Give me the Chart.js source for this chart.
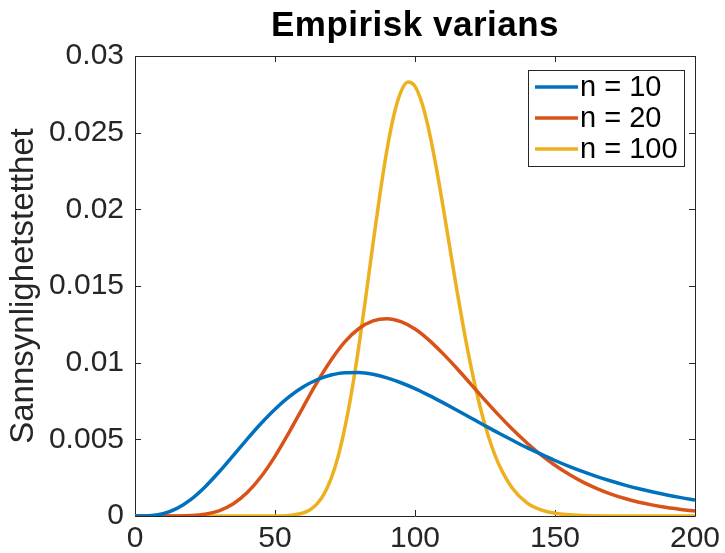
<!DOCTYPE html>
<html>
<head>
<meta charset="utf-8">
<script src="https://cdn.jsdelivr.net/npm/chart.js@4"></script>
<style>
  body { margin: 0; background: #fff; }
</style>
</head>
<body>
<canvas id="chart" width="725" height="553"></canvas>
<script>
'use strict';

// values
const xValues = [0, 5, 10, 15, 20, 25, 30, 35, 40, 45, 50, 55, 60, 65, 70, 75, 80, 85, 90, 95, 100,
  105, 110, 115, 120, 125, 130, 135, 140, 145, 150, 155, 160, 165, 170, 175, 180, 185, 190, 195, 200];
const n10 = [0, 0.0000167, 0.000151, 0.000498, 0.001088, 0.001897, 0.002867, 0.003927, 0.005003, 0.006034,
  0.006966, 0.007766, 0.00841, 0.008885, 0.009198, 0.00935, 0.009356, 0.00924, 0.00901, 0.00869,
  0.00831, 0.00787, 0.007394, 0.0069, 0.006394, 0.00589, 0.005395, 0.00492, 0.004458, 0.00403,
  0.00362, 0.00324, 0.002893, 0.00257, 0.00228, 0.002016, 0.001776, 0.001562, 0.001368, 0.001197, 0.001044];
const n20 = [0, 0, 0.0000002, 0.0000039, 0.0000279, 0.0001155, 0.000338, 0.00078, 0.00151, 0.002556,
  0.00389, 0.00544, 0.00709, 0.00871, 0.01016, 0.01137, 0.01223, 0.01273, 0.01287, 0.01267,
  0.01219, 0.01147, 0.01059, 0.00962, 0.00859, 0.00756, 0.00656, 0.00562, 0.00476, 0.00399,
  0.00331, 0.00272, 0.00221, 0.00179, 0.00143, 0.00114, 0.0009, 0.00071, 0.00055, 0.00043, 0.00033];
// n = 100 is narrow, so it is read at a finer step around the peak
const xValues100 = [0, 40, 50, 55, 60, 62.5, 65, 67.5, 70, 72.5, 75, 77.5, 80, 82.5, 85, 87.5, 90, 92.5, 95, 97.5,
  100, 102.5, 105, 107.5, 110, 112.5, 115, 117.5, 120, 122.5, 125, 127.5, 130, 135, 140, 145, 150, 160, 170, 200];
const n100 = [0, 0, 0.000004, 0.000034, 0.000194, 0.000407, 0.00079, 0.00143, 0.00242, 0.00385,
  0.00579, 0.00823, 0.01114, 0.01438, 0.01775, 0.0210, 0.02389, 0.02617, 0.02768, 0.0283,
  0.02802, 0.02692, 0.02514, 0.02283, 0.0202, 0.01743, 0.01468, 0.01209, 0.00974, 0.00768,
  0.00593, 0.0045, 0.00335, 0.00176, 0.00086, 0.000398, 0.000173, 0.000028, 0.000003, 0];

const seriesNames = ['n = 10', 'n = 20', 'n = 100'];
const seriesColors = ['#0072BD', '#D95319', '#EDB120'];
const xTicks = [0, 50, 100, 150, 200];
const yTicks = [0, 0.005, 0.01, 0.015, 0.02, 0.025, 0.03];

const titleText = 'Empirisk varians';
const yLabel = 'Sannsynlighetstetthet';
const fontFamily = '"Liberation Sans", Arial, Helvetica, sans-serif';
const axisColor = '#262626';

let canvasElem = document.getElementById('chart');

function toPoints(xs, ys) {
  return xs.map((x, i) => ({ x: x, y: ys[i] }));
}

// MATLAB-like box with inward ticks, title and framed legend
const matlabLook = {
  id: 'matlabLook',
  beforeDatasetsDraw(chart) {
    const { ctx, chartArea: a, scales } = chart;
    ctx.save();
    ctx.strokeStyle = axisColor;
    ctx.lineWidth = 1;
    ctx.beginPath();
    ctx.rect(Math.round(a.left) + 0.5, Math.round(a.top) + 0.5,
      Math.round(a.right - a.left), Math.round(a.bottom - a.top));
    xTicks.forEach(v => {
      const px = Math.round(scales.x.getPixelForValue(v)) + 0.5;
      ctx.moveTo(px, a.bottom); ctx.lineTo(px, a.bottom - 6);
      ctx.moveTo(px, a.top); ctx.lineTo(px, a.top + 6);
    });
    yTicks.forEach(v => {
      const py = Math.round(scales.y.getPixelForValue(v)) + 0.5;
      ctx.moveTo(a.left, py); ctx.lineTo(a.left + 6, py);
      ctx.moveTo(a.right, py); ctx.lineTo(a.right - 6, py);
    });
    ctx.stroke();
    ctx.restore();
  },
  afterDraw(chart) {
    const { ctx, chartArea: a } = chart;
    ctx.save();
    // title, centred over the plot area
    ctx.fillStyle = '#000';
    ctx.font = 'bold 35px ' + fontFamily;
    ctx.letterSpacing = '0.5px';
    ctx.textAlign = 'center';
    ctx.textBaseline = 'alphabetic';
    ctx.fillText(titleText, (a.left + a.right) / 2, 36);
    ctx.letterSpacing = '0px';

    // legend
    const box = { left: 528, top: 70, right: 684, bottom: 166 };
    ctx.fillStyle = '#fff';
    ctx.fillRect(box.left, box.top, box.right - box.left, box.bottom - box.top);
    ctx.strokeStyle = axisColor;
    ctx.lineWidth = 1;
    ctx.strokeRect(box.left + 0.5, box.top + 0.5, box.right - box.left, box.bottom - box.top);
    ctx.font = '29px ' + fontFamily;
    ctx.textAlign = 'left';
    ctx.textBaseline = 'middle';
    chart.data.datasets.forEach((ds, i) => {
      const yy = 87 + i * 31;
      ctx.strokeStyle = ds.borderColor;
      ctx.lineWidth = 3.5;
      ctx.beginPath();
      ctx.moveTo(535, yy); ctx.lineTo(578, yy);
      ctx.stroke();
      ctx.fillStyle = '#000';
      ctx.fillText(ds.label, 580, yy + 1);
    });
    ctx.restore();
  }
};

function renderChart() {
  let seriesX = [xValues, xValues, xValues100];
  let seriesY = [n10, n20, n100];

  let data = {
    datasets: seriesNames.map((name, i) => ({
      label: name,
      data: toPoints(seriesX[i], seriesY[i]),
      borderColor: seriesColors[i],
      backgroundColor: seriesColors[i],
      borderWidth: 3.5,
      pointRadius: 0,
      fill: false,
      cubicInterpolationMode: 'monotone',
    })),
  };

  let config = {
    type: 'line',
    data: data,
    options: {
      responsive: false,
      animation: false,
      devicePixelRatio: 1,
      layout: { padding: { top: 56, right: 28, bottom: 0, left: 0 } },
      plugins: {
        legend: { display: false },
        title: { display: false },
        tooltip: { enabled: false },
      },
      scales: {
        x: {
          type: 'linear',
          min: 0,
          max: 200,
          afterFit(scale) { scale.height = 37; },
          afterBuildTicks(scale) { scale.ticks = xTicks.map(v => ({ value: v })); },
          grid: { display: false, drawTicks: false },
          border: { display: false },
          ticks: {
            padding: 5,
            color: axisColor,
            font: { family: fontFamily, size: 30 },
            maxRotation: 0,
          },
        },
        y: {
          type: 'linear',
          min: 0,
          max: 0.03,
          afterFit(scale) { scale.width = 135; },
          afterBuildTicks(scale) { scale.ticks = yTicks.map(v => ({ value: v })); },
          grid: { display: false, drawTicks: false },
          border: { display: false },
          ticks: {
            padding: 11,
            color: axisColor,
            font: { family: fontFamily, size: 30 },
            callback: v => String(+v.toFixed(3)),
          },
          title: {
            display: true,
            text: yLabel,
            color: axisColor,
            font: { family: fontFamily, size: 33 },
          },
        },
      },
    },
    plugins: [matlabLook],
  };

  new Chart(canvasElem, config);
}

renderChart();
</script>
</body>
</html>
